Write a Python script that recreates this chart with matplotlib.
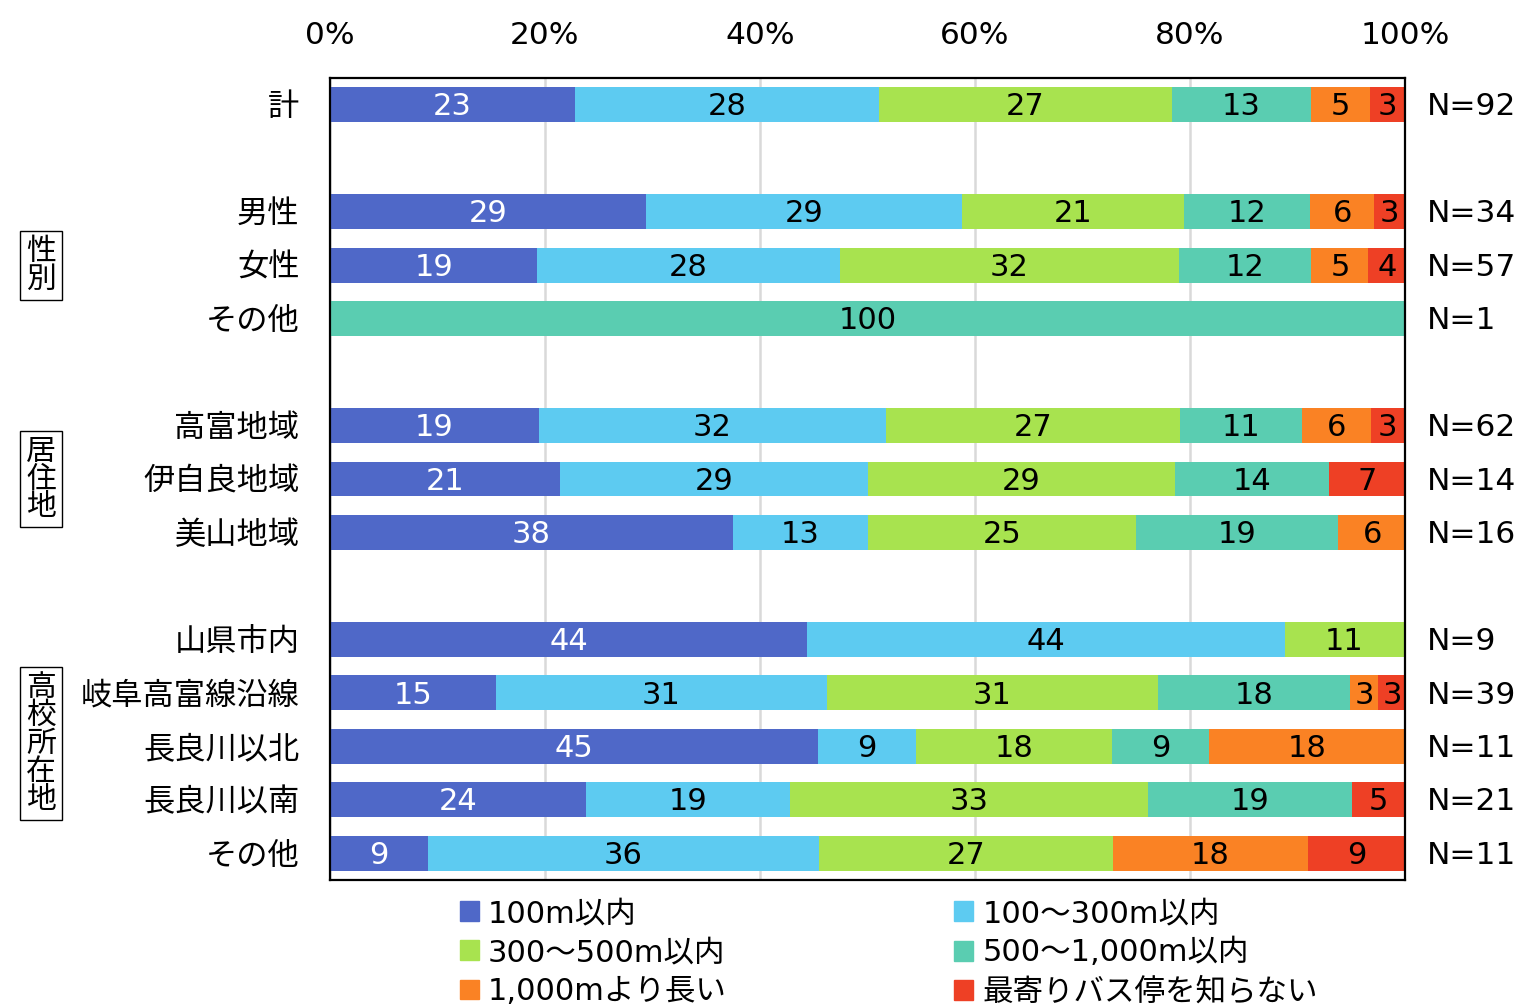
import matplotlib.pyplot as plt
from matplotlib.patches import Patch
from matplotlib.transforms import blended_transform_factory

plt.rcParams['font.family'] = ['DejaVu Sans', 'Noto Sans CJK JP']

# 行ラベルと位置（空き行でグループを区切る）
rows = ['計', '男性', '女性', 'その他', '高富地域', '伊自良地域', '美山地域',
        '山県市内', '岐阜高富線沿線', '長良川以北', '長良川以南', 'その他']
slots = [0, 2, 3, 4, 6, 7, 8, 10, 11, 12, 13, 14]
n_labels = ['N=92', 'N=34', 'N=57', 'N=1', 'N=62', 'N=14', 'N=16',
            'N=9', 'N=39', 'N=11', 'N=21', 'N=11']

series = ['100m以内', '100～300m以内', '300～500m以内', '500～1,000m以内',
          '1,000mより長い', '最寄りバス停を知らない']
colors = ['#4F68C8', '#5DCBF1', '#A8E34F', '#5ACDB1', '#FA8224', '#EE4025']

# 各区分の割合（%）
d_100 = [22.8, 29.4, 19.3, 0, 19.4, 21.4, 37.5, 44.4, 15.4, 45.4, 23.8, 9.1]
d_300 = [28.3, 29.4, 28.1, 0, 32.3, 28.6, 12.5, 44.4, 30.8, 9.1, 19.0, 36.4]
d_500 = [27.2, 20.6, 31.6, 0, 27.4, 28.6, 25.0, 11.1, 30.8, 18.2, 33.3, 27.3]
d_1000 = [13.0, 11.8, 12.3, 100, 11.3, 14.3, 18.8, 0, 17.9, 9.1, 19.0, 0]
d_long = [5.4, 5.9, 5.3, 0, 6.4, 0, 6.3, 0, 2.6, 18.2, 0, 18.2]
d_none = [3.3, 2.9, 3.5, 0, 3.2, 7.1, 0, 0, 2.6, 0, 4.8, 9.1]
data = [d_100, d_300, d_500, d_1000, d_long, d_none]

groups = [('性\n別', 3), ('居\n住\n地', 7), ('高\n校\n所\n在\n地', 11.95)]

fig = plt.figure(figsize=(15.19, 10.05), dpi=100)
ax = fig.add_axes([330/1519, 1-880/1005, 1075/1519, 802/1005])

left = [0] * len(rows)
for vals, col, name in zip(data, colors, series):
    ax.barh(slots, vals, left=left, height=0.65, color=col, label=name, zorder=2)
    for y, v, l in zip(slots, vals, left):
        if v > 0:
            tc = 'white' if col == colors[0] else 'black'
            ax.text(l + v / 2, y + 0.04, str(int(v + 0.5)), ha='center', va='center',
                    fontsize=22, color=tc, zorder=3)
    left = [a + b for a, b in zip(left, vals)]

ax.set_xlim(0, 100)
ax.set_ylim(14.5, -0.5)
ax.set_xticks(range(0, 101, 20))
ax.set_xticklabels([f'{t}%' for t in range(0, 101, 20)])
ax.xaxis.tick_top()
ax.tick_params(axis='x', length=0, pad=20, labelsize=22.5)
ax.set_yticks(slots)
ax.set_yticklabels(rows)
ax.tick_params(axis='y', length=0, pad=22, labelsize=22.5)
ax.grid(axis='x', color='#D9D9D9', linewidth=1.8, zorder=0)
ax.set_axisbelow(True)
for sp in ax.spines.values():
    sp.set_linewidth(1.6)
    sp.set_color('black')

for y, n in zip(slots, n_labels):
    ax.text(102, y + 0.04, n, ha='left', va='center', fontsize=22.5, clip_on=False)

tr = blended_transform_factory(fig.transFigure, ax.transData)
for txt, y in groups:
    ax.text(41/1519, y, txt, transform=tr, ha='center', va='center',
            fontsize=21.5, linespacing=0.95,
            bbox=dict(boxstyle='square,pad=0.2', fc='white', ec='black', lw=1))

handles = [Patch(color=c) for c in colors]
order = [0, 2, 4, 1, 3, 5]
fig.legend([handles[i] for i in order], [series[i] for i in order], ncol=2,
           loc='upper left', bbox_to_anchor=(460/1519, 1-899/1005), frameon=False,
           fontsize=22, handlelength=0.62, handleheight=0.62, handletextpad=0.3,
           columnspacing=7.44, labelspacing=0.33, borderaxespad=0, borderpad=0)

fig.savefig('out.png', dpi=100)
